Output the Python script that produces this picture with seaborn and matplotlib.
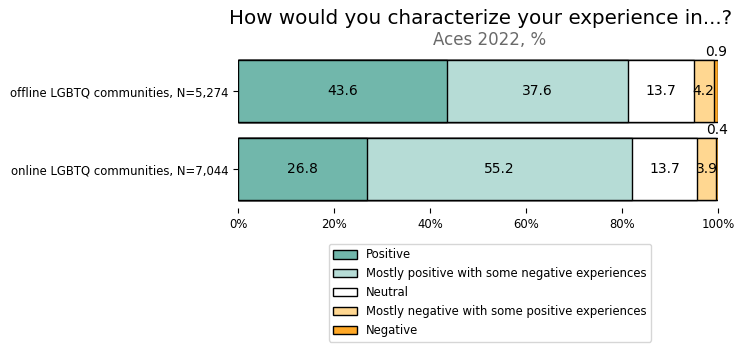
import matplotlib
matplotlib.use("Agg")
import matplotlib.pyplot as plt
import seaborn as sns
import pandas as pd
from matplotlib.patches import Patch

# data
groups = ["offline LGBTQ communities, N=5,274", "online LGBTQ communities, N=7,044"]
answers = ["Positive", "Mostly positive with some negative experiences", "Neutral",
           "Mostly negative with some positive experiences", "Negative"]
offline = [43.6, 37.6, 13.7, 4.2, 0.9]
online = [26.8, 55.2, 13.7, 3.9, 0.4]
colors = ["#71b7ab", "#b6dcd6", "#ffffff", "#ffd791", "#ffa826"]

rows = []
for g, vals in zip(groups, [offline, online]):
    cum = 0
    for a, v in zip(answers, vals):
        cum += v
        rows.append({"group": g, "answer": a, "value": v, "cum": cum, "mid": cum - v / 2})
df = pd.DataFrame(rows)

fig = plt.figure(figsize=(7.51, 3.51), dpi=100)
ax = fig.add_axes([238 / 751, 1 - 208 / 351, 480 / 751, 156 / 351])

# stacked bars: draw cumulative totals from the largest down
for a, c in reversed(list(zip(answers, colors))):
    sub = df[df["answer"] == a]
    sns.barplot(data=sub, x="cum", y="group", order=groups, color=c, saturation=1,
                edgecolor="black", linewidth=1, width=0.8, ax=ax)

for i, g in enumerate(groups):
    sub = df[df["group"] == g]
    for _, r in sub.iterrows():
        if r["value"] >= 2:
            ax.text(r["mid"], i, f"{r['value']:.1f}", ha="center", va="center", fontsize=10)
        else:
            ax.text(r["mid"], i - 0.41, f"{r['value']:.1f}", ha="center", va="bottom", fontsize=10)

ax.set_xlim(0, 100)
ax.set_xticks([0, 20, 40, 60, 80, 100])
ax.set_xticklabels(["0%", "20%", "40%", "60%", "80%", "100%"], fontsize=8.4)
ax.tick_params(axis="y", labelsize=8.4)
ax.set_xlabel("")
ax.set_ylabel("")
sns.despine(ax=ax, left=True, bottom=True)

fig.text(481 / 751, 1 - 18 / 351, "How would you characterize your experience in...?",
         ha="center", va="center", fontsize=14.3)
fig.text(490 / 751, 1 - 40 / 351, "Aces 2022, %", ha="center", va="center",
         fontsize=12, color="dimgray")

handles = [Patch(facecolor=c, edgecolor="black", label=a) for a, c in zip(answers, colors)]
fig.legend(handles=handles, loc="upper center", bbox_to_anchor=(490 / 751, 1 - 238 / 351),
           fontsize=8.4, frameon=True)

fig.savefig("out.png", dpi=100)
